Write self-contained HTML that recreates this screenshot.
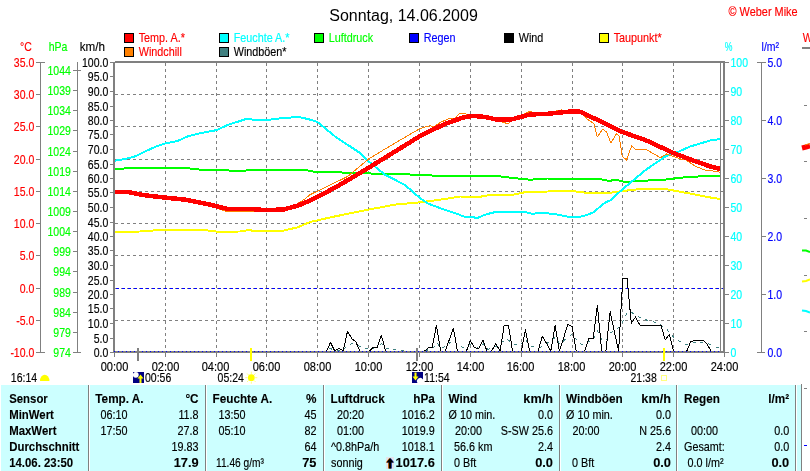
<!DOCTYPE html>
<html><head><meta charset="utf-8"><title>Sonntag, 14.06.2009</title>
<style>html,body{margin:0;padding:0;background:#fff;overflow:hidden}svg{display:block}text{white-space:pre}</style>
</head><body>
<svg width="810" height="471" viewBox="0 0 810 471" font-family="'Liberation Sans', sans-serif" font-size="12">
<rect width="810" height="471" fill="#fff"/>
<g shape-rendering="crispEdges">
<line x1="115" y1="94.5" x2="723" y2="94.5" stroke="#808080" stroke-width="1" stroke-dasharray="3,3"/>
<line x1="115" y1="126.5" x2="723" y2="126.5" stroke="#808080" stroke-width="1" stroke-dasharray="3,3"/>
<line x1="115" y1="159.5" x2="723" y2="159.5" stroke="#808080" stroke-width="1" stroke-dasharray="3,3"/>
<line x1="115" y1="191.5" x2="723" y2="191.5" stroke="#808080" stroke-width="1" stroke-dasharray="3,3"/>
<line x1="115" y1="223.5" x2="723" y2="223.5" stroke="#808080" stroke-width="1" stroke-dasharray="3,3"/>
<line x1="115" y1="255.5" x2="723" y2="255.5" stroke="#808080" stroke-width="1" stroke-dasharray="3,3"/>
<line x1="115" y1="288.5" x2="723" y2="288.5" stroke="#808080" stroke-width="1" stroke-dasharray="3,3"/>
<line x1="115" y1="320.5" x2="723" y2="320.5" stroke="#808080" stroke-width="1" stroke-dasharray="3,3"/>
<line x1="165.5" y1="63" x2="165.5" y2="351" stroke="#808080" stroke-width="1" stroke-dasharray="3,3"/>
<line x1="216.5" y1="63" x2="216.5" y2="351" stroke="#808080" stroke-width="1" stroke-dasharray="3,3"/>
<line x1="266.5" y1="63" x2="266.5" y2="351" stroke="#808080" stroke-width="1" stroke-dasharray="3,3"/>
<line x1="317.5" y1="63" x2="317.5" y2="351" stroke="#808080" stroke-width="1" stroke-dasharray="3,3"/>
<line x1="368.5" y1="63" x2="368.5" y2="351" stroke="#808080" stroke-width="1" stroke-dasharray="3,3"/>
<line x1="419.5" y1="63" x2="419.5" y2="351" stroke="#808080" stroke-width="1" stroke-dasharray="3,3"/>
<line x1="470.5" y1="63" x2="470.5" y2="351" stroke="#808080" stroke-width="1" stroke-dasharray="3,3"/>
<line x1="521.5" y1="63" x2="521.5" y2="351" stroke="#808080" stroke-width="1" stroke-dasharray="3,3"/>
<line x1="572.5" y1="63" x2="572.5" y2="351" stroke="#808080" stroke-width="1" stroke-dasharray="3,3"/>
<line x1="622.5" y1="63" x2="622.5" y2="351" stroke="#808080" stroke-width="1" stroke-dasharray="3,3"/>
<line x1="673.5" y1="63" x2="673.5" y2="351" stroke="#808080" stroke-width="1" stroke-dasharray="3,3"/>
</g>
<g shape-rendering="crispEdges">
<line x1="116" y1="288.5" x2="723" y2="288.5" stroke="#0000ff" stroke-width="1" stroke-dasharray="3,3"/>
</g>
<polyline points="115.0,169.0 132.5,168.0 185.0,168.0 207.7,170.5 217.8,169.5 240.0,171.5 252.9,169.5 305.5,169.5 310.0,171.4 347.6,172.7 385.0,174.0 419.5,174.7 435.0,175.7 495.5,175.7 510.0,177.7 530.0,179.7 547.6,178.5 597.7,178.5 607.7,180.7 617.8,180.2 625.3,182.0 640.3,180.7 660.4,180.2 685.4,177.2 712.0,175.7 720.9,175.8" fill="none" stroke="#00ff00" stroke-width="2" stroke-linejoin="round" stroke-linecap="butt" shape-rendering="crispEdges"/>
<polyline points="115.0,232.0 140.0,231.5 157.6,230.2 205.0,230.2 217.8,231.7 240.0,231.5 247.8,230.2 260.0,231.2 283.0,230.7 298.0,227.2 310.0,222.0 335.0,216.4 368.6,209.6 395.0,204.6 419.5,202.4 445.0,199.0 460.0,196.5 480.0,196.8 490.0,194.9 512.0,194.9 525.0,192.2 547.6,191.5 572.7,191.0 585.2,192.7 610.3,192.7 622.3,191.0 640.3,189.0 665.4,189.0 685.4,192.7 712.0,197.8 720.9,199.0" fill="none" stroke="#ffff00" stroke-width="2" stroke-linejoin="round" stroke-linecap="butt" shape-rendering="crispEdges"/>
<polyline points="115.0,160.7 125.0,159.0 135.0,156.4 145.0,151.4 156.4,146.4 165.4,143.4 177.7,140.9 187.7,136.4 197.7,133.8 216.5,130.1 227.8,125.0 246.6,118.8 255.4,120.0 266.6,120.0 283.0,118.0 299.2,117.0 310.0,119.6 317.5,122.0 335.0,136.4 360.0,153.0 368.6,161.4 385.0,174.7 405.0,185.0 419.5,197.7 427.8,203.5 445.0,210.0 455.0,213.0 465.0,217.0 478.0,217.7 485.0,214.7 495.5,212.0 512.0,212.0 525.0,212.0 532.6,214.0 540.0,212.7 555.0,214.0 570.0,217.2 582.7,216.4 592.7,212.7 605.2,202.6 610.3,200.3 622.3,189.5 645.3,170.2 665.4,156.4 673.4,153.9 690.5,146.4 712.0,140.0 720.9,139.1" fill="none" stroke="#00ffff" stroke-width="2" stroke-linejoin="round" stroke-linecap="butt" shape-rendering="crispEdges"/>
<polyline points="115.0,192.0 127.0,193.0 142.6,196.5 165.0,199.0 185.0,201.0 210.0,206.0 225.0,211.0 240.0,211.5 265.0,211.5 283.0,210.0 295.0,205.0 305.0,199.0 310.0,194.7 320.0,190.0 347.6,176.5 368.6,159.0 385.0,149.0 419.5,128.8 430.0,125.6 434.0,126.8 440.0,122.6 450.0,118.0 454.0,119.3 460.0,113.3 470.0,114.5 480.0,116.0 495.0,119.5 508.0,123.8 512.0,120.0 521.3,115.5 530.0,111.3 533.8,113.0 547.0,113.0 561.4,110.0 565.0,111.5 575.0,111.0 582.7,113.8 587.7,119.5 594.0,123.8 597.2,137.0 602.7,129.3 606.5,132.0 610.8,143.0 616.5,133.8 619.0,135.6 622.3,156.4 626.5,160.0 631.6,146.0 635.3,149.0 645.3,149.0 660.4,157.7 666.6,154.0 680.4,159.0 685.4,159.7 695.5,166.4 705.5,170.2 712.0,170.8 719.9,172.2" fill="none" stroke="#ff8000" stroke-width="1" stroke-linejoin="round" stroke-linecap="butt" shape-rendering="crispEdges"/>
<polyline points="115.0,191.8 127.5,191.8 142.6,195.0 165.0,197.6 185.0,199.6 210.0,204.6 227.8,209.0 250.0,209.0 265.0,210.0 283.0,209.6 298.0,205.6 310.0,200.5 335.0,187.7 360.0,173.0 385.0,157.7 419.5,136.4 445.0,123.8 463.0,117.6 473.0,115.8 485.0,117.0 495.5,119.3 512.0,119.3 530.0,114.5 547.6,113.8 572.7,111.3 579.0,111.3 597.7,120.0 622.3,132.0 645.3,140.0 673.4,153.0 695.5,161.4 712.0,167.0 720.9,169.0" fill="none" stroke="#ff0000" stroke-width="4.5" stroke-linejoin="round" stroke-linecap="butt" shape-rendering="crispEdges"/>
<polyline points="115.0,352.0 326.7,352.0 330.3,348.3 335.0,350.8 343.3,350.0 347.5,345.0 352.5,343.7 358.3,345.8 363.3,347.5 368.3,349.2 376.7,347.5 381.7,343.7 385.0,348.3 390.0,349.2 396.7,350.0 403.3,350.5 410.0,351.3 416.7,352.0 425.0,350.8 433.0,348.3 437.0,342.5 440.5,348.3 445.0,346.7 453.3,340.0 457.5,345.0 463.3,347.5 470.5,344.2 476.7,348.3 483.3,343.7 487.5,349.2 493.3,348.3 499.7,343.7 506.7,338.7 513.3,344.2 520.0,345.3 525.5,339.2 530.0,345.8 538.3,348.3 546.7,343.7 555.3,337.5 559.7,344.2 567.5,337.5 572.5,334.2 578.3,342.5 583.3,345.0 588.3,341.7 593.0,340.0 597.5,330.8 601.7,340.0 605.8,340.8 610.8,332.5 616.7,330.0 622.5,321.7 627.5,311.7 631.7,312.5 635.5,315.3 643.3,319.2 653.3,321.7 660.8,325.0 666.7,329.2 673.8,337.5 680.0,341.7 687.2,345.0 692.5,342.5 700.0,342.0 710.0,344.2 717.5,347.5 720.5,348.0" fill="none" stroke="#408080" stroke-width="1" stroke-linejoin="round" stroke-linecap="butt" shape-rendering="crispEdges" stroke-dasharray="3,5"/>
<polyline points="115.0,352.0 326.3,352.0 330.5,342.5 334.8,351.0 339.0,348.3 343.2,351.0 347.5,331.3 351.7,338.5 356.0,342.0 360.2,352.0 364.4,352.0 368.7,352.0 372.9,347.8 377.1,347.8 381.4,335.3 385.6,351.0 389.8,352.0 423.7,352.0 428.0,347.8 432.2,347.5 436.4,325.3 440.7,351.0 444.9,352.0 449.2,340.0 453.4,328.3 457.6,352.0 461.9,352.0 466.1,352.0 470.3,340.8 474.6,347.8 478.8,348.3 483.0,340.3 487.3,352.0 491.5,351.0 495.8,343.7 500.0,351.0 504.2,325.3 508.5,325.3 512.7,352.0 516.9,352.0 521.2,352.0 525.4,329.7 529.6,351.0 533.9,351.5 538.1,351.0 542.3,336.3 546.6,343.5 550.8,351.0 555.1,325.3 559.3,351.0 563.5,338.3 567.8,324.5 572.0,326.3 576.2,351.0 580.5,351.5 584.7,351.0 588.9,338.7 593.2,338.3 597.4,305.5 601.7,351.0 605.9,351.0 610.1,311.7 614.4,331.7 618.6,351.0 622.8,278.3 627.1,278.3 631.3,323.3 635.5,317.0 639.8,325.0 644.0,325.0 648.2,325.0 652.5,325.0 656.7,325.0 661.0,325.0 665.2,340.0 669.4,334.2 673.7,352.0 677.9,352.0 682.1,352.0 686.4,352.0 690.6,342.0 694.8,340.0 699.1,340.0 703.3,340.0 707.6,345.0 711.8,352.0 716.0,352.0 720.3,352.0" fill="none" stroke="#000000" stroke-width="1" stroke-linejoin="round" stroke-linecap="butt" shape-rendering="crispEdges"/>
<g shape-rendering="crispEdges">
<rect x="115" y="61" width="610" height="2" fill="#808080"/>
<rect x="113" y="351" width="612" height="2" fill="#808080"/>
<rect x="113" y="62" width="2" height="291" fill="#808080"/>
<rect x="723" y="61" width="2" height="292" fill="#808080"/>
<rect x="720" y="63" width="1" height="288" fill="#808080"/>
<line x1="114.5" y1="353" x2="114.5" y2="357" stroke="#808080" stroke-width="1"/>
<line x1="724.5" y1="353" x2="724.5" y2="357" stroke="#808080" stroke-width="1"/>
<line x1="114" y1="351.5" x2="722" y2="351.5" stroke="#0000ff" stroke-width="1" stroke-dasharray="1,3"/>
<line x1="165.5" y1="353" x2="165.5" y2="357" stroke="#808080" stroke-width="1"/>
<line x1="216.5" y1="353" x2="216.5" y2="357" stroke="#808080" stroke-width="1"/>
<line x1="266.5" y1="353" x2="266.5" y2="357" stroke="#808080" stroke-width="1"/>
<line x1="317.5" y1="353" x2="317.5" y2="357" stroke="#808080" stroke-width="1"/>
<line x1="368.5" y1="353" x2="368.5" y2="357" stroke="#808080" stroke-width="1"/>
<line x1="419.5" y1="353" x2="419.5" y2="357" stroke="#808080" stroke-width="1"/>
<line x1="470.5" y1="353" x2="470.5" y2="357" stroke="#808080" stroke-width="1"/>
<line x1="521.5" y1="353" x2="521.5" y2="357" stroke="#808080" stroke-width="1"/>
<line x1="572.5" y1="353" x2="572.5" y2="357" stroke="#808080" stroke-width="1"/>
<line x1="622.5" y1="353" x2="622.5" y2="357" stroke="#808080" stroke-width="1"/>
<line x1="673.5" y1="353" x2="673.5" y2="357" stroke="#808080" stroke-width="1"/>
<line x1="110" y1="62.5" x2="113" y2="62.5" stroke="#808080" stroke-width="1"/>
<line x1="110" y1="76.5" x2="113" y2="76.5" stroke="#808080" stroke-width="1"/>
<line x1="110" y1="91.5" x2="113" y2="91.5" stroke="#808080" stroke-width="1"/>
<line x1="110" y1="106.5" x2="113" y2="106.5" stroke="#808080" stroke-width="1"/>
<line x1="110" y1="120.5" x2="113" y2="120.5" stroke="#808080" stroke-width="1"/>
<line x1="110" y1="134.5" x2="113" y2="134.5" stroke="#808080" stroke-width="1"/>
<line x1="110" y1="149.5" x2="113" y2="149.5" stroke="#808080" stroke-width="1"/>
<line x1="110" y1="164.5" x2="113" y2="164.5" stroke="#808080" stroke-width="1"/>
<line x1="110" y1="178.5" x2="113" y2="178.5" stroke="#808080" stroke-width="1"/>
<line x1="110" y1="192.5" x2="113" y2="192.5" stroke="#808080" stroke-width="1"/>
<line x1="110" y1="207.5" x2="113" y2="207.5" stroke="#808080" stroke-width="1"/>
<line x1="110" y1="222.5" x2="113" y2="222.5" stroke="#808080" stroke-width="1"/>
<line x1="110" y1="236.5" x2="113" y2="236.5" stroke="#808080" stroke-width="1"/>
<line x1="110" y1="250.5" x2="113" y2="250.5" stroke="#808080" stroke-width="1"/>
<line x1="110" y1="265.5" x2="113" y2="265.5" stroke="#808080" stroke-width="1"/>
<line x1="110" y1="280.5" x2="113" y2="280.5" stroke="#808080" stroke-width="1"/>
<line x1="110" y1="294.5" x2="113" y2="294.5" stroke="#808080" stroke-width="1"/>
<line x1="110" y1="308.5" x2="113" y2="308.5" stroke="#808080" stroke-width="1"/>
<line x1="110" y1="323.5" x2="113" y2="323.5" stroke="#808080" stroke-width="1"/>
<line x1="110" y1="338.5" x2="113" y2="338.5" stroke="#808080" stroke-width="1"/>
<line x1="110" y1="352.5" x2="113" y2="352.5" stroke="#808080" stroke-width="1"/>
<line x1="40.5" y1="62" x2="40.5" y2="353" stroke="#808080" stroke-width="1"/>
<line x1="36" y1="62.5" x2="45" y2="62.5" stroke="#808080" stroke-width="1"/>
<line x1="36" y1="352.5" x2="45" y2="352.5" stroke="#808080" stroke-width="1"/>
<line x1="36" y1="94.5" x2="40" y2="94.5" stroke="#808080" stroke-width="1"/>
<line x1="36" y1="126.5" x2="40" y2="126.5" stroke="#808080" stroke-width="1"/>
<line x1="36" y1="159.5" x2="40" y2="159.5" stroke="#808080" stroke-width="1"/>
<line x1="36" y1="191.5" x2="40" y2="191.5" stroke="#808080" stroke-width="1"/>
<line x1="36" y1="223.5" x2="40" y2="223.5" stroke="#808080" stroke-width="1"/>
<line x1="36" y1="255.5" x2="40" y2="255.5" stroke="#808080" stroke-width="1"/>
<line x1="36" y1="288.5" x2="40" y2="288.5" stroke="#808080" stroke-width="1"/>
<line x1="36" y1="320.5" x2="40" y2="320.5" stroke="#808080" stroke-width="1"/>
<line x1="77.5" y1="62" x2="77.5" y2="353" stroke="#808080" stroke-width="1"/>
<line x1="73" y1="70.5" x2="81" y2="70.5" stroke="#808080" stroke-width="1"/>
<line x1="73" y1="352.5" x2="81" y2="352.5" stroke="#808080" stroke-width="1"/>
<line x1="73" y1="90.5" x2="77" y2="90.5" stroke="#808080" stroke-width="1"/>
<line x1="73" y1="110.5" x2="77" y2="110.5" stroke="#808080" stroke-width="1"/>
<line x1="73" y1="130.5" x2="77" y2="130.5" stroke="#808080" stroke-width="1"/>
<line x1="73" y1="151.5" x2="77" y2="151.5" stroke="#808080" stroke-width="1"/>
<line x1="73" y1="171.5" x2="77" y2="171.5" stroke="#808080" stroke-width="1"/>
<line x1="73" y1="191.5" x2="77" y2="191.5" stroke="#808080" stroke-width="1"/>
<line x1="73" y1="211.5" x2="77" y2="211.5" stroke="#808080" stroke-width="1"/>
<line x1="73" y1="231.5" x2="77" y2="231.5" stroke="#808080" stroke-width="1"/>
<line x1="73" y1="251.5" x2="77" y2="251.5" stroke="#808080" stroke-width="1"/>
<line x1="73" y1="271.5" x2="77" y2="271.5" stroke="#808080" stroke-width="1"/>
<line x1="73" y1="292.5" x2="77" y2="292.5" stroke="#808080" stroke-width="1"/>
<line x1="73" y1="312.5" x2="77" y2="312.5" stroke="#808080" stroke-width="1"/>
<line x1="73" y1="332.5" x2="77" y2="332.5" stroke="#808080" stroke-width="1"/>
<line x1="725" y1="62.5" x2="729" y2="62.5" stroke="#808080" stroke-width="1"/>
<line x1="725" y1="91.5" x2="729" y2="91.5" stroke="#808080" stroke-width="1"/>
<line x1="725" y1="120.5" x2="729" y2="120.5" stroke="#808080" stroke-width="1"/>
<line x1="725" y1="149.5" x2="729" y2="149.5" stroke="#808080" stroke-width="1"/>
<line x1="725" y1="178.5" x2="729" y2="178.5" stroke="#808080" stroke-width="1"/>
<line x1="725" y1="207.5" x2="729" y2="207.5" stroke="#808080" stroke-width="1"/>
<line x1="725" y1="236.5" x2="729" y2="236.5" stroke="#808080" stroke-width="1"/>
<line x1="725" y1="265.5" x2="729" y2="265.5" stroke="#808080" stroke-width="1"/>
<line x1="725" y1="294.5" x2="729" y2="294.5" stroke="#808080" stroke-width="1"/>
<line x1="725" y1="323.5" x2="729" y2="323.5" stroke="#808080" stroke-width="1"/>
<line x1="725" y1="352.5" x2="729" y2="352.5" stroke="#808080" stroke-width="1"/>
<line x1="761.5" y1="62" x2="761.5" y2="353" stroke="#808080" stroke-width="1"/>
<line x1="757" y1="62.5" x2="766" y2="62.5" stroke="#808080" stroke-width="1"/>
<line x1="757" y1="352.5" x2="765" y2="352.5" stroke="#808080" stroke-width="1"/>
<line x1="762" y1="120.5" x2="766" y2="120.5" stroke="#808080" stroke-width="1"/>
<line x1="762" y1="178.5" x2="766" y2="178.5" stroke="#808080" stroke-width="1"/>
<line x1="762" y1="236.5" x2="766" y2="236.5" stroke="#808080" stroke-width="1"/>
<line x1="762" y1="294.5" x2="766" y2="294.5" stroke="#808080" stroke-width="1"/>
</g>
<text transform="translate(34.3 67) scale(0.875 1)" fill="#ff0000" stroke="#ff0000" stroke-width="0.15" font-size="12" text-anchor="end">35.0</text>
<text transform="translate(34.3 99) scale(0.875 1)" fill="#ff0000" stroke="#ff0000" stroke-width="0.15" font-size="12" text-anchor="end">30.0</text>
<text transform="translate(34.3 131) scale(0.875 1)" fill="#ff0000" stroke="#ff0000" stroke-width="0.15" font-size="12" text-anchor="end">25.0</text>
<text transform="translate(34.3 164) scale(0.875 1)" fill="#ff0000" stroke="#ff0000" stroke-width="0.15" font-size="12" text-anchor="end">20.0</text>
<text transform="translate(34.3 196) scale(0.875 1)" fill="#ff0000" stroke="#ff0000" stroke-width="0.15" font-size="12" text-anchor="end">15.0</text>
<text transform="translate(34.3 228) scale(0.875 1)" fill="#ff0000" stroke="#ff0000" stroke-width="0.15" font-size="12" text-anchor="end">10.0</text>
<text transform="translate(34.3 260) scale(0.875 1)" fill="#ff0000" stroke="#ff0000" stroke-width="0.15" font-size="12" text-anchor="end">5.0</text>
<text transform="translate(34.3 293) scale(0.875 1)" fill="#ff0000" stroke="#ff0000" stroke-width="0.15" font-size="12" text-anchor="end">0.0</text>
<text transform="translate(34.3 325) scale(0.875 1)" fill="#ff0000" stroke="#ff0000" stroke-width="0.15" font-size="12" text-anchor="end">-5.0</text>
<text transform="translate(34.3 357) scale(0.875 1)" fill="#ff0000" stroke="#ff0000" stroke-width="0.15" font-size="12" text-anchor="end">-10.0</text>
<text transform="translate(70.8 75) scale(0.875 1)" fill="#00ff00" stroke="#00ff00" stroke-width="0.15" font-size="12" text-anchor="end">1044</text>
<text transform="translate(70.8 95) scale(0.875 1)" fill="#00ff00" stroke="#00ff00" stroke-width="0.15" font-size="12" text-anchor="end">1039</text>
<text transform="translate(70.8 115) scale(0.875 1)" fill="#00ff00" stroke="#00ff00" stroke-width="0.15" font-size="12" text-anchor="end">1034</text>
<text transform="translate(70.8 135) scale(0.875 1)" fill="#00ff00" stroke="#00ff00" stroke-width="0.15" font-size="12" text-anchor="end">1029</text>
<text transform="translate(70.8 156) scale(0.875 1)" fill="#00ff00" stroke="#00ff00" stroke-width="0.15" font-size="12" text-anchor="end">1024</text>
<text transform="translate(70.8 176) scale(0.875 1)" fill="#00ff00" stroke="#00ff00" stroke-width="0.15" font-size="12" text-anchor="end">1019</text>
<text transform="translate(70.8 196) scale(0.875 1)" fill="#00ff00" stroke="#00ff00" stroke-width="0.15" font-size="12" text-anchor="end">1014</text>
<text transform="translate(70.8 216) scale(0.875 1)" fill="#00ff00" stroke="#00ff00" stroke-width="0.15" font-size="12" text-anchor="end">1009</text>
<text transform="translate(70.8 236) scale(0.875 1)" fill="#00ff00" stroke="#00ff00" stroke-width="0.15" font-size="12" text-anchor="end">1004</text>
<text transform="translate(70.8 256) scale(0.875 1)" fill="#00ff00" stroke="#00ff00" stroke-width="0.15" font-size="12" text-anchor="end">999</text>
<text transform="translate(70.8 276) scale(0.875 1)" fill="#00ff00" stroke="#00ff00" stroke-width="0.15" font-size="12" text-anchor="end">994</text>
<text transform="translate(70.8 297) scale(0.875 1)" fill="#00ff00" stroke="#00ff00" stroke-width="0.15" font-size="12" text-anchor="end">989</text>
<text transform="translate(70.8 317) scale(0.875 1)" fill="#00ff00" stroke="#00ff00" stroke-width="0.15" font-size="12" text-anchor="end">984</text>
<text transform="translate(70.8 337) scale(0.875 1)" fill="#00ff00" stroke="#00ff00" stroke-width="0.15" font-size="12" text-anchor="end">979</text>
<text transform="translate(70.8 357) scale(0.875 1)" fill="#00ff00" stroke="#00ff00" stroke-width="0.15" font-size="12" text-anchor="end">974</text>
<text transform="translate(108.3 67) scale(0.875 1)" fill="#000" stroke="#000" stroke-width="0.15" font-size="12" text-anchor="end">100.0</text>
<text transform="translate(108.3 81) scale(0.875 1)" fill="#000" stroke="#000" stroke-width="0.15" font-size="12" text-anchor="end">95.0</text>
<text transform="translate(108.3 96) scale(0.875 1)" fill="#000" stroke="#000" stroke-width="0.15" font-size="12" text-anchor="end">90.0</text>
<text transform="translate(108.3 111) scale(0.875 1)" fill="#000" stroke="#000" stroke-width="0.15" font-size="12" text-anchor="end">85.0</text>
<text transform="translate(108.3 125) scale(0.875 1)" fill="#000" stroke="#000" stroke-width="0.15" font-size="12" text-anchor="end">80.0</text>
<text transform="translate(108.3 139) scale(0.875 1)" fill="#000" stroke="#000" stroke-width="0.15" font-size="12" text-anchor="end">75.0</text>
<text transform="translate(108.3 154) scale(0.875 1)" fill="#000" stroke="#000" stroke-width="0.15" font-size="12" text-anchor="end">70.0</text>
<text transform="translate(108.3 169) scale(0.875 1)" fill="#000" stroke="#000" stroke-width="0.15" font-size="12" text-anchor="end">65.0</text>
<text transform="translate(108.3 183) scale(0.875 1)" fill="#000" stroke="#000" stroke-width="0.15" font-size="12" text-anchor="end">60.0</text>
<text transform="translate(108.3 197) scale(0.875 1)" fill="#000" stroke="#000" stroke-width="0.15" font-size="12" text-anchor="end">55.0</text>
<text transform="translate(108.3 212) scale(0.875 1)" fill="#000" stroke="#000" stroke-width="0.15" font-size="12" text-anchor="end">50.0</text>
<text transform="translate(108.3 227) scale(0.875 1)" fill="#000" stroke="#000" stroke-width="0.15" font-size="12" text-anchor="end">45.0</text>
<text transform="translate(108.3 241) scale(0.875 1)" fill="#000" stroke="#000" stroke-width="0.15" font-size="12" text-anchor="end">40.0</text>
<text transform="translate(108.3 255) scale(0.875 1)" fill="#000" stroke="#000" stroke-width="0.15" font-size="12" text-anchor="end">35.0</text>
<text transform="translate(108.3 270) scale(0.875 1)" fill="#000" stroke="#000" stroke-width="0.15" font-size="12" text-anchor="end">30.0</text>
<text transform="translate(108.3 285) scale(0.875 1)" fill="#000" stroke="#000" stroke-width="0.15" font-size="12" text-anchor="end">25.0</text>
<text transform="translate(108.3 299) scale(0.875 1)" fill="#000" stroke="#000" stroke-width="0.15" font-size="12" text-anchor="end">20.0</text>
<text transform="translate(108.3 313) scale(0.875 1)" fill="#000" stroke="#000" stroke-width="0.15" font-size="12" text-anchor="end">15.0</text>
<text transform="translate(108.3 328) scale(0.875 1)" fill="#000" stroke="#000" stroke-width="0.15" font-size="12" text-anchor="end">10.0</text>
<text transform="translate(108.3 343) scale(0.875 1)" fill="#000" stroke="#000" stroke-width="0.15" font-size="12" text-anchor="end">5.0</text>
<text transform="translate(108.3 357) scale(0.875 1)" fill="#000" stroke="#000" stroke-width="0.15" font-size="12" text-anchor="end">0.0</text>
<text transform="translate(730.5 67) scale(0.875 1)" fill="#00ffff" stroke="#00ffff" stroke-width="0.15" font-size="12">100</text>
<text transform="translate(730.5 96) scale(0.875 1)" fill="#00ffff" stroke="#00ffff" stroke-width="0.15" font-size="12">90</text>
<text transform="translate(730.5 125) scale(0.875 1)" fill="#00ffff" stroke="#00ffff" stroke-width="0.15" font-size="12">80</text>
<text transform="translate(730.5 154) scale(0.875 1)" fill="#00ffff" stroke="#00ffff" stroke-width="0.15" font-size="12">70</text>
<text transform="translate(730.5 183) scale(0.875 1)" fill="#00ffff" stroke="#00ffff" stroke-width="0.15" font-size="12">60</text>
<text transform="translate(730.5 212) scale(0.875 1)" fill="#00ffff" stroke="#00ffff" stroke-width="0.15" font-size="12">50</text>
<text transform="translate(730.5 241) scale(0.875 1)" fill="#00ffff" stroke="#00ffff" stroke-width="0.15" font-size="12">40</text>
<text transform="translate(730.5 270) scale(0.875 1)" fill="#00ffff" stroke="#00ffff" stroke-width="0.15" font-size="12">30</text>
<text transform="translate(730.5 299) scale(0.875 1)" fill="#00ffff" stroke="#00ffff" stroke-width="0.15" font-size="12">20</text>
<text transform="translate(730.5 328) scale(0.875 1)" fill="#00ffff" stroke="#00ffff" stroke-width="0.15" font-size="12">10</text>
<text transform="translate(730.5 357) scale(0.875 1)" fill="#00ffff" stroke="#00ffff" stroke-width="0.15" font-size="12">0</text>
<text transform="translate(767.5 67) scale(0.875 1)" fill="#0000ff" stroke="#0000ff" stroke-width="0.15" font-size="12">5.0</text>
<text transform="translate(767.5 125) scale(0.875 1)" fill="#0000ff" stroke="#0000ff" stroke-width="0.15" font-size="12">4.0</text>
<text transform="translate(767.5 183) scale(0.875 1)" fill="#0000ff" stroke="#0000ff" stroke-width="0.15" font-size="12">3.0</text>
<text transform="translate(767.5 241) scale(0.875 1)" fill="#0000ff" stroke="#0000ff" stroke-width="0.15" font-size="12">2.0</text>
<text transform="translate(767.5 299) scale(0.875 1)" fill="#0000ff" stroke="#0000ff" stroke-width="0.15" font-size="12">1.0</text>
<text transform="translate(767.5 357) scale(0.875 1)" fill="#0000ff" stroke="#0000ff" stroke-width="0.15" font-size="12">0.0</text>
<text transform="translate(20 50.8) scale(0.875 1)" fill="#ff0000" stroke="#ff0000" stroke-width="0.15" font-size="12">°C</text>
<text transform="translate(48.7 50.8) scale(0.875 1)" fill="#00ff00" stroke="#00ff00" stroke-width="0.15" font-size="12">hPa</text>
<text transform="translate(79.7 50.8) scale(0.97 1)" fill="#000" stroke="#000" stroke-width="0.15" font-size="12">km/h</text>
<text transform="translate(724.8 50.8) scale(0.72 1)" fill="#00ffff" stroke="#00ffff" stroke-width="0.15" font-size="12">%</text>
<text transform="translate(761.6 50.8) scale(0.875 1)" fill="#0000ff" stroke="#0000ff" stroke-width="0.15" font-size="12">l/m²</text>
<text transform="translate(114.5 370.5) scale(0.92 1)" fill="#000" stroke="#000" stroke-width="0.15" font-size="12" text-anchor="middle">00:00</text>
<text transform="translate(165.5 370.5) scale(0.92 1)" fill="#000" stroke="#000" stroke-width="0.15" font-size="12" text-anchor="middle">02:00</text>
<text transform="translate(215.5 370.5) scale(0.92 1)" fill="#000" stroke="#000" stroke-width="0.15" font-size="12" text-anchor="middle">04:00</text>
<text transform="translate(266.5 370.5) scale(0.92 1)" fill="#000" stroke="#000" stroke-width="0.15" font-size="12" text-anchor="middle">06:00</text>
<text transform="translate(317.5 370.5) scale(0.92 1)" fill="#000" stroke="#000" stroke-width="0.15" font-size="12" text-anchor="middle">08:00</text>
<text transform="translate(368.5 370.5) scale(0.92 1)" fill="#000" stroke="#000" stroke-width="0.15" font-size="12" text-anchor="middle">10:00</text>
<text transform="translate(419.5 370.5) scale(0.92 1)" fill="#000" stroke="#000" stroke-width="0.15" font-size="12" text-anchor="middle">12:00</text>
<text transform="translate(470.5 370.5) scale(0.92 1)" fill="#000" stroke="#000" stroke-width="0.15" font-size="12" text-anchor="middle">14:00</text>
<text transform="translate(520.5 370.5) scale(0.92 1)" fill="#000" stroke="#000" stroke-width="0.15" font-size="12" text-anchor="middle">16:00</text>
<text transform="translate(571.5 370.5) scale(0.92 1)" fill="#000" stroke="#000" stroke-width="0.15" font-size="12" text-anchor="middle">18:00</text>
<text transform="translate(622.5 370.5) scale(0.92 1)" fill="#000" stroke="#000" stroke-width="0.15" font-size="12" text-anchor="middle">20:00</text>
<text transform="translate(673.5 370.5) scale(0.92 1)" fill="#000" stroke="#000" stroke-width="0.15" font-size="12" text-anchor="middle">22:00</text>
<text transform="translate(724.5 370.5) scale(0.92 1)" fill="#000" stroke="#000" stroke-width="0.15" font-size="12" text-anchor="middle">24:00</text>
<text transform="translate(403.5 20.5) scale(1 1)" fill="#000" stroke="#000" stroke-width="0" font-size="16" text-anchor="middle">Sonntag, 14.06.2009</text>
<text transform="translate(728.5 16.2) scale(0.91 1)" fill="#ff0000" stroke="#ff0000" stroke-width="0.15" font-size="12">© Weber Mike</text>
<rect x="124.5" y="33.5" width="9" height="9" fill="#ff0000" stroke="#000" stroke-width="1" shape-rendering="crispEdges"/>
<text transform="translate(138.7 42) scale(0.9 1)" fill="#ff0000" stroke="#ff0000" stroke-width="0.15" font-size="12">Temp. A.*</text>
<rect x="219.5" y="33.5" width="9" height="9" fill="#00ffff" stroke="#000" stroke-width="1" shape-rendering="crispEdges"/>
<text transform="translate(233.7 42) scale(0.9 1)" fill="#00ffff" stroke="#00ffff" stroke-width="0.15" font-size="12">Feuchte A.*</text>
<rect x="314.5" y="33.5" width="9" height="9" fill="#00ff00" stroke="#000" stroke-width="1" shape-rendering="crispEdges"/>
<text transform="translate(328.7 42) scale(0.9 1)" fill="#00ff00" stroke="#00ff00" stroke-width="0.15" font-size="12">Luftdruck</text>
<rect x="409.5" y="33.5" width="9" height="9" fill="#0000ff" stroke="#000" stroke-width="1" shape-rendering="crispEdges"/>
<text transform="translate(423.7 42) scale(0.9 1)" fill="#0000ff" stroke="#0000ff" stroke-width="0.15" font-size="12">Regen</text>
<rect x="504.5" y="33.5" width="9" height="9" fill="#000000" stroke="#000" stroke-width="1" shape-rendering="crispEdges"/>
<text transform="translate(518.7 42) scale(0.9 1)" fill="#000" stroke="#000" stroke-width="0.15" font-size="12">Wind</text>
<rect x="599.5" y="33.5" width="9" height="9" fill="#ffff00" stroke="#000" stroke-width="1" shape-rendering="crispEdges"/>
<text transform="translate(613.7 42) scale(0.9 1)" fill="#ff0000" stroke="#ff0000" stroke-width="0.15" font-size="12">Taupunkt*</text>
<rect x="124.5" y="47.5" width="9" height="9" fill="#ff8000" stroke="#000" stroke-width="1" shape-rendering="crispEdges"/>
<text transform="translate(138.7 56) scale(0.9 1)" fill="#ff0000" stroke="#ff0000" stroke-width="0.15" font-size="12">Windchill</text>
<rect x="219.5" y="47.5" width="9" height="9" fill="#408080" stroke="#000" stroke-width="1" shape-rendering="crispEdges"/>
<text transform="translate(233.7 56) scale(0.9 1)" fill="#000" stroke="#000" stroke-width="0.15" font-size="12">Windböen*</text>
<g shape-rendering="crispEdges">
<line x1="138.0" y1="348" x2="138.0" y2="361" stroke="#808080" stroke-width="2"/>
<line x1="251.0" y1="348" x2="251.0" y2="361" stroke="#ffff00" stroke-width="2"/>
<line x1="417.0" y1="348" x2="417.0" y2="361" stroke="#808080" stroke-width="2"/>
<line x1="664.0" y1="348" x2="664.0" y2="361" stroke="#ffff00" stroke-width="2"/>
</g>
<text transform="translate(10.8 381.7) scale(0.875 1)" fill="#000" stroke="#000" stroke-width="0.15" font-size="12">16:14</text>
<text transform="translate(145 381.7) scale(0.875 1)" fill="#000" stroke="#000" stroke-width="0.15" font-size="12">00:56</text>
<text transform="translate(217.6 381.7) scale(0.875 1)" fill="#000" stroke="#000" stroke-width="0.15" font-size="12">05:24</text>
<text transform="translate(424.1 381.7) scale(0.875 1)" fill="#000" stroke="#000" stroke-width="0.15" font-size="12">11:54</text>
<text transform="translate(630.5 381.7) scale(0.875 1)" fill="#000" stroke="#000" stroke-width="0.15" font-size="12">21:38</text>
<path d="M40,381 A4.7,6.2 0 0 1 49.4,381 Z" fill="#ffff00"/>
<rect x="133" y="372" width="11" height="11" fill="#000080" shape-rendering="crispEdges"/>
<circle cx="135.8" cy="374.8" r="2.9" fill="#fff"/>
<path d="M140.5,374.5 l3,4 h-2 v4.5 h-2 v-4.5 h-2 z" fill="#ffff00"/>
<rect x="412" y="372" width="11" height="11" fill="#000080" shape-rendering="crispEdges"/>
<path d="M423,383 h-5.5 a3,3 0 0 1 5.5,-3.5 z" fill="#fff"/>
<path d="M415.5,380.5 l3,-4 h-2 v-4 h-2 v4 h-2 z" fill="#ffff00"/>
<circle cx="251.3" cy="377.7" r="3.4" fill="#ffff00"/>
<g stroke="#ffff80" stroke-width="1"><line x1="255.1" y1="377.7" x2="257.3" y2="377.7"/><line x1="254.0" y1="380.4" x2="255.5" y2="381.9"/><line x1="251.3" y1="381.5" x2="251.3" y2="383.7"/><line x1="248.6" y1="380.4" x2="247.1" y2="381.9"/><line x1="247.5" y1="377.7" x2="245.3" y2="377.7"/><line x1="248.6" y1="375.0" x2="247.1" y2="373.5"/><line x1="251.3" y1="373.9" x2="251.3" y2="371.7"/><line x1="254.0" y1="375.0" x2="255.5" y2="373.5"/></g>
<rect x="661.5" y="375.5" width="5" height="5" fill="none" stroke="#ffff80" stroke-width="1" shape-rendering="crispEdges"/>
<rect x="1" y="385" width="800" height="86" fill="#ccffff" shape-rendering="crispEdges"/>
<g shape-rendering="crispEdges">
<line x1="88.5" y1="385" x2="88.5" y2="471" stroke="#808080" stroke-width="1"/>
<line x1="89.5" y1="385" x2="89.5" y2="471" stroke="#ffffff" stroke-width="1"/>
<line x1="205.5" y1="385" x2="205.5" y2="471" stroke="#808080" stroke-width="1"/>
<line x1="206.5" y1="385" x2="206.5" y2="471" stroke="#ffffff" stroke-width="1"/>
<line x1="323.5" y1="385" x2="323.5" y2="471" stroke="#808080" stroke-width="1"/>
<line x1="324.5" y1="385" x2="324.5" y2="471" stroke="#ffffff" stroke-width="1"/>
<line x1="441.5" y1="385" x2="441.5" y2="471" stroke="#808080" stroke-width="1"/>
<line x1="442.5" y1="385" x2="442.5" y2="471" stroke="#ffffff" stroke-width="1"/>
<line x1="559.5" y1="385" x2="559.5" y2="471" stroke="#808080" stroke-width="1"/>
<line x1="560.5" y1="385" x2="560.5" y2="471" stroke="#ffffff" stroke-width="1"/>
<line x1="676.5" y1="385" x2="676.5" y2="471" stroke="#808080" stroke-width="1"/>
<line x1="677.5" y1="385" x2="677.5" y2="471" stroke="#ffffff" stroke-width="1"/>
<line x1="795.5" y1="385" x2="795.5" y2="471" stroke="#808080" stroke-width="1"/>
<line x1="796.5" y1="385" x2="796.5" y2="471" stroke="#ffffff" stroke-width="1"/>
<line x1="801.5" y1="384" x2="801.5" y2="471" stroke="#808080" stroke-width="1"/>
</g>
<text transform="translate(9.2 402.6) scale(0.95 1)" fill="#000" stroke="#000" stroke-width="0.1" font-size="12" font-weight="bold">Sensor</text>
<text transform="translate(9.2 418.7) scale(0.95 1)" fill="#000" stroke="#000" stroke-width="0.1" font-size="12" font-weight="bold">MinWert</text>
<text transform="translate(9.2 434.7) scale(0.95 1)" fill="#000" stroke="#000" stroke-width="0.1" font-size="12" font-weight="bold">MaxWert</text>
<text transform="translate(9.2 450.6) scale(0.95 1)" fill="#000" stroke="#000" stroke-width="0.1" font-size="12" font-weight="bold">Durchschnitt</text>
<text transform="translate(9.2 466.6) scale(0.95 1)" fill="#000" stroke="#000" stroke-width="0.1" font-size="12" font-weight="bold">14.06. 23:50</text>
<text transform="translate(95.3 402.6) scale(0.98 1)" fill="#000" stroke="#000" stroke-width="0.1" font-size="12" font-weight="bold">Temp. A.</text>
<text transform="translate(198.6 402.6) scale(0.98 1)" fill="#000" stroke="#000" stroke-width="0.1" font-size="12" text-anchor="end" font-weight="bold">°C</text>
<text transform="translate(100.5 418.7) scale(0.9 1)" fill="#000" stroke="#000" stroke-width="0.15" font-size="12">06:10</text>
<text transform="translate(198.6 418.7) scale(0.9 1)" fill="#000" stroke="#000" stroke-width="0.15" font-size="12" text-anchor="end">11.8</text>
<text transform="translate(100.5 434.7) scale(0.9 1)" fill="#000" stroke="#000" stroke-width="0.15" font-size="12">17:50</text>
<text transform="translate(198.6 434.7) scale(0.9 1)" fill="#000" stroke="#000" stroke-width="0.15" font-size="12" text-anchor="end">27.8</text>
<text transform="translate(198.6 450.6) scale(0.9 1)" fill="#000" stroke="#000" stroke-width="0.15" font-size="12" text-anchor="end">19.83</text>
<text transform="translate(198.6 466.6) scale(1.07 1)" fill="#000" stroke="#000" stroke-width="0.1" font-size="12" text-anchor="end" font-weight="bold">17.9</text>
<text transform="translate(212.5 402.6) scale(0.98 1)" fill="#000" stroke="#000" stroke-width="0.1" font-size="12" font-weight="bold">Feuchte A.</text>
<text transform="translate(316.5 402.6) scale(0.98 1)" fill="#000" stroke="#000" stroke-width="0.1" font-size="12" text-anchor="end" font-weight="bold">%</text>
<text transform="translate(218.5 418.7) scale(0.9 1)" fill="#000" stroke="#000" stroke-width="0.15" font-size="12">13:50</text>
<text transform="translate(316.5 418.7) scale(0.9 1)" fill="#000" stroke="#000" stroke-width="0.15" font-size="12" text-anchor="end">45</text>
<text transform="translate(218.5 434.7) scale(0.9 1)" fill="#000" stroke="#000" stroke-width="0.15" font-size="12">05:10</text>
<text transform="translate(316.5 434.7) scale(0.9 1)" fill="#000" stroke="#000" stroke-width="0.15" font-size="12" text-anchor="end">82</text>
<text transform="translate(316.5 450.6) scale(0.9 1)" fill="#000" stroke="#000" stroke-width="0.15" font-size="12" text-anchor="end">64</text>
<text transform="translate(216 466.6) scale(0.85 1)" fill="#000" stroke="#000" stroke-width="0.15" font-size="12">11.46 g/m³</text>
<text transform="translate(316.5 466.6) scale(1.07 1)" fill="#000" stroke="#000" stroke-width="0.1" font-size="12" text-anchor="end" font-weight="bold">75</text>
<text transform="translate(330.5 402.6) scale(0.98 1)" fill="#000" stroke="#000" stroke-width="0.1" font-size="12" font-weight="bold">Luftdruck</text>
<text transform="translate(434.8 402.6) scale(0.98 1)" fill="#000" stroke="#000" stroke-width="0.1" font-size="12" text-anchor="end" font-weight="bold">hPa</text>
<text transform="translate(337 418.7) scale(0.9 1)" fill="#000" stroke="#000" stroke-width="0.15" font-size="12">20:20</text>
<text transform="translate(434.8 418.7) scale(0.9 1)" fill="#000" stroke="#000" stroke-width="0.15" font-size="12" text-anchor="end">1016.2</text>
<text transform="translate(337 434.7) scale(0.9 1)" fill="#000" stroke="#000" stroke-width="0.15" font-size="12">01:00</text>
<text transform="translate(434.8 434.7) scale(0.9 1)" fill="#000" stroke="#000" stroke-width="0.15" font-size="12" text-anchor="end">1019.9</text>
<text transform="translate(331 450.6) scale(0.9 1)" fill="#000" stroke="#000" stroke-width="0.15" font-size="12">^0.8hPa/h</text>
<text transform="translate(434.8 450.6) scale(0.9 1)" fill="#000" stroke="#000" stroke-width="0.15" font-size="12" text-anchor="end">1018.1</text>
<text transform="translate(331 466.6) scale(0.9 1)" fill="#000" stroke="#000" stroke-width="0.15" font-size="12">sonnig</text>
<text transform="translate(434.8 466.6) scale(1.07 1)" fill="#000" stroke="#000" stroke-width="0.1" font-size="12" text-anchor="end" font-weight="bold">1017.6</text>
<rect x="386" y="457" width="8" height="12" fill="#e4e4ea" shape-rendering="crispEdges"/>
<path d="M389.3,457.9 l3.6,4.6 h-2.4 v6 h-2.4 v-6 h-2.4 z" fill="#e07000"/>
<path d="M390.7,457.9 l3.6,4.6 h-2.4 v6 h-2.4 v-6 h-2.4 z" fill="#3050c0"/>
<path d="M390,457.9 l3.6,4.6 h-2.4 v6 h-2.4 v-6 h-2.4 z" fill="#000"/>
<text transform="translate(448.5 402.6) scale(0.98 1)" fill="#000" stroke="#000" stroke-width="0.1" font-size="12" font-weight="bold">Wind</text>
<text transform="translate(553.0 402.6) scale(1.06 1)" fill="#000" stroke="#000" stroke-width="0.1" font-size="12" text-anchor="end" font-weight="bold">km/h</text>
<text transform="translate(448.5 418.7) scale(0.9 1)" fill="#000" stroke="#000" stroke-width="0.15" font-size="12">Ø 10 min.</text>
<text transform="translate(553.0 418.7) scale(0.9 1)" fill="#000" stroke="#000" stroke-width="0.15" font-size="12" text-anchor="end">0.0</text>
<text transform="translate(455 434.7) scale(0.9 1)" fill="#000" stroke="#000" stroke-width="0.15" font-size="12">20:00</text>
<text transform="translate(553.0 434.7) scale(0.9 1)" fill="#000" stroke="#000" stroke-width="0.15" font-size="12" text-anchor="end">S-SW 25.6</text>
<text transform="translate(454 450.6) scale(0.9 1)" fill="#000" stroke="#000" stroke-width="0.15" font-size="12">56.6 km</text>
<text transform="translate(553.0 450.6) scale(0.9 1)" fill="#000" stroke="#000" stroke-width="0.15" font-size="12" text-anchor="end">2.4</text>
<text transform="translate(454 466.6) scale(0.9 1)" fill="#000" stroke="#000" stroke-width="0.15" font-size="12">0 Bft</text>
<text transform="translate(553.0 466.6) scale(1.07 1)" fill="#000" stroke="#000" stroke-width="0.1" font-size="12" text-anchor="end" font-weight="bold">0.0</text>
<text transform="translate(566 402.6) scale(0.98 1)" fill="#000" stroke="#000" stroke-width="0.1" font-size="12" font-weight="bold">Windböen</text>
<text transform="translate(671.0 402.6) scale(1.06 1)" fill="#000" stroke="#000" stroke-width="0.1" font-size="12" text-anchor="end" font-weight="bold">km/h</text>
<text transform="translate(566 418.7) scale(0.9 1)" fill="#000" stroke="#000" stroke-width="0.15" font-size="12">Ø 10 min.</text>
<text transform="translate(671.0 418.7) scale(0.9 1)" fill="#000" stroke="#000" stroke-width="0.15" font-size="12" text-anchor="end">0.0</text>
<text transform="translate(572.5 434.7) scale(0.9 1)" fill="#000" stroke="#000" stroke-width="0.15" font-size="12">20:00</text>
<text transform="translate(671.0 434.7) scale(0.9 1)" fill="#000" stroke="#000" stroke-width="0.15" font-size="12" text-anchor="end">N 25.6</text>
<text transform="translate(671.0 450.6) scale(0.9 1)" fill="#000" stroke="#000" stroke-width="0.15" font-size="12" text-anchor="end">2.4</text>
<text transform="translate(572 466.6) scale(0.9 1)" fill="#000" stroke="#000" stroke-width="0.15" font-size="12">0 Bft</text>
<text transform="translate(671.0 466.6) scale(1.07 1)" fill="#000" stroke="#000" stroke-width="0.1" font-size="12" text-anchor="end" font-weight="bold">0.0</text>
<text transform="translate(684 402.6) scale(0.98 1)" fill="#000" stroke="#000" stroke-width="0.1" font-size="12" font-weight="bold">Regen</text>
<text transform="translate(789.2 402.6) scale(0.98 1)" fill="#000" stroke="#000" stroke-width="0.1" font-size="12" text-anchor="end" font-weight="bold">l/m²</text>
<text transform="translate(691 434.7) scale(0.9 1)" fill="#000" stroke="#000" stroke-width="0.15" font-size="12">00:00</text>
<text transform="translate(789.2 434.7) scale(0.9 1)" fill="#000" stroke="#000" stroke-width="0.15" font-size="12" text-anchor="end">0.0</text>
<text transform="translate(684 450.6) scale(0.9 1)" fill="#000" stroke="#000" stroke-width="0.15" font-size="12">Gesamt:</text>
<text transform="translate(789.2 450.6) scale(0.9 1)" fill="#000" stroke="#000" stroke-width="0.15" font-size="12" text-anchor="end">0.0</text>
<text transform="translate(687.5 466.6) scale(0.9 1)" fill="#000" stroke="#000" stroke-width="0.15" font-size="12">0.0 l/m²</text>
<text transform="translate(789.2 466.6) scale(1.07 1)" fill="#000" stroke="#000" stroke-width="0.1" font-size="12" text-anchor="end" font-weight="bold">0.0</text>
<g shape-rendering="crispEdges">
<line x1="802" y1="48.0" x2="810" y2="48.0" stroke="#808080" stroke-width="2"/>
<line x1="804" y1="105.5" x2="807" y2="105.5" stroke="#808080" stroke-width="1"/>
<line x1="804" y1="161.5" x2="807" y2="161.5" stroke="#808080" stroke-width="1"/>
<line x1="804" y1="218.5" x2="807" y2="218.5" stroke="#808080" stroke-width="1"/>
<line x1="804" y1="275.5" x2="807" y2="275.5" stroke="#808080" stroke-width="1"/>
<line x1="804" y1="331.5" x2="807" y2="331.5" stroke="#808080" stroke-width="1"/>
<line x1="804" y1="388.5" x2="807" y2="388.5" stroke="#808080" stroke-width="1"/>
<line x1="804" y1="445.5" x2="807" y2="445.5" stroke="#0000ff" stroke-width="1"/>
</g>
<text transform="translate(802.8 41.8) scale(0.875 1)" fill="#ff0000" stroke="#ff0000" stroke-width="0.15" font-size="12">W</text>
<polyline points="802,148 806,147 810,146" fill="none" stroke="#ff0000" stroke-width="5"/>
<polyline points="805,145 810,143.5" fill="none" stroke="#ff8000" stroke-width="1"/>
<polyline points="802,250.5 806,250.5 810,252" fill="none" stroke="#00ff00" stroke-width="2"/>
<polyline points="802,281.5 806,281 810,279.5" fill="none" stroke="#ffff00" stroke-width="2"/>
<polyline points="802,310.5 806,311 810,312.5" fill="none" stroke="#00ffff" stroke-width="2"/>
</svg>
</body></html>
